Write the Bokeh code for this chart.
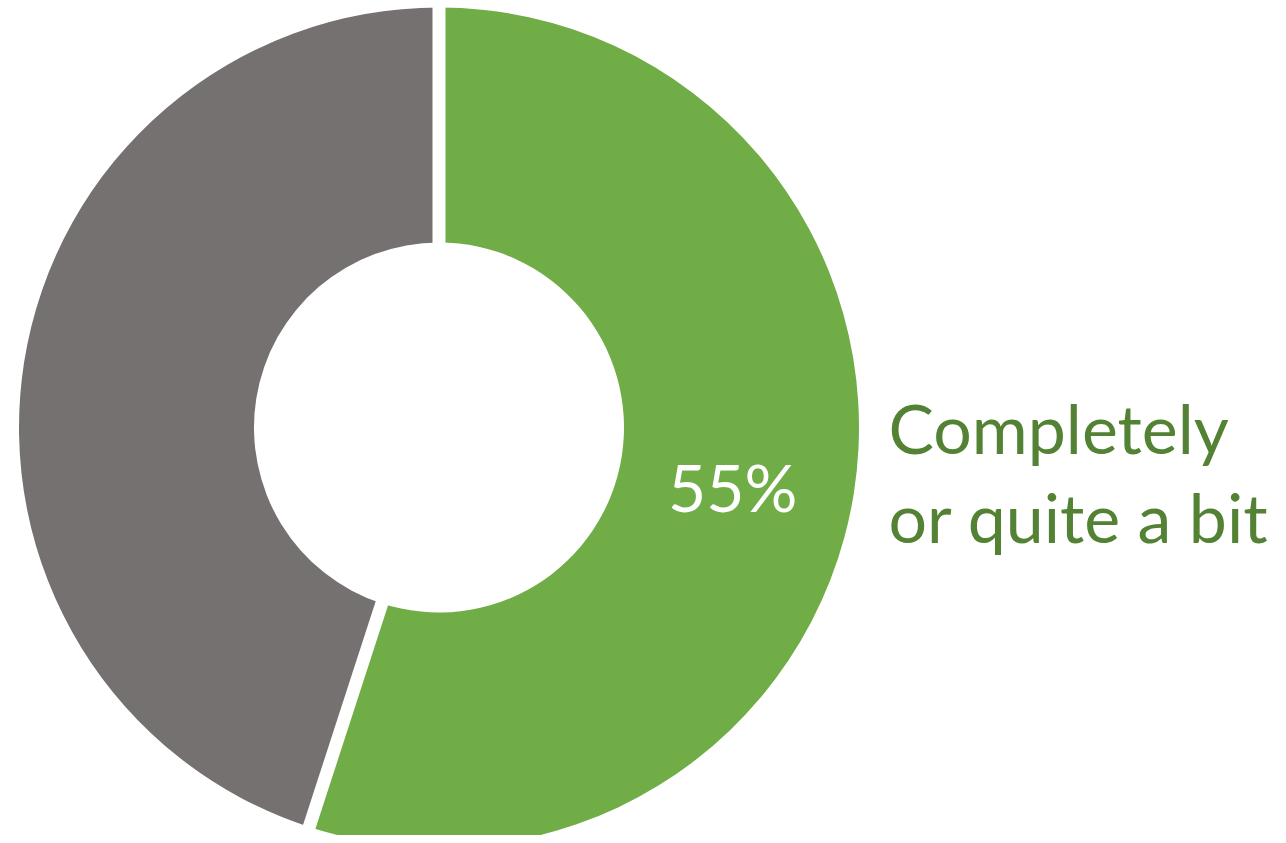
import math
from bokeh.plotting import figure
from bokeh.models import Range1d
from bokeh.core.properties import value
from bokeh.embed import file_html
from bokeh.resources import INLINE

# Data
categories = ["Completely or quite a bit", "Other"]
values = [55, 45]
colors = ["#70AD47", "#767171"]
pct_labels = ["55%", ""]
label_lines = ["Completely", "or quite a bit"]

W, H = 1278, 835
p = figure(width=W, height=H, output_backend="svg", toolbar_location=None,
           x_range=Range1d(0, W), y_range=Range1d(0, H), min_border=0)
p.axis.visible = False
p.grid.visible = False
p.outline_line_color = None
p.background_fill_color = "white"
p.border_fill_color = "white"

cx, cy = 438.5, H - 427
r_in, r_out = 185, 420

total = float(sum(values))
start = math.pi / 2  # 12 o'clock, going clockwise
bounds = []
for v, c in zip(values, colors):
    sweep = 2 * math.pi * v / total
    end = start - sweep
    p.annular_wedge(x=[cx], y=[cy], inner_radius=r_in, outer_radius=r_out,
                    start_angle=end, end_angle=start, direction="anticlock",
                    fill_color=c, line_color=None)
    bounds.append(start)
    start = end

# white separators
for a in bounds:
    p.segment(x0=[cx], y0=[cy], x1=[cx + (r_out + 10) * math.cos(a)],
              y1=[cy + (r_out + 10) * math.sin(a)], line_color="white", line_width=13)

# percentage label in the green slice
mid = math.pi / 2 - 2 * math.pi * values[0] / total / 2
rm = (r_in + r_out) / 2
p.text(x=[cx + rm * math.cos(mid)], y=[cy + rm * math.sin(mid)], text=[pct_labels[0]],
       text_align="center", text_baseline="middle", y_offset=12, x_offset=-5,
       text_color="white", text_font=value("Lato"), text_font_size="66px")

# category label
for i, line in enumerate(label_lines):
    p.text(x=[888], y=[H - 427 - 89 * i], text=[line], text_align="left",
           text_baseline="alphabetic", text_color="#548235",
           text_font=value("Lato"), text_font_size="68px")

open("out.html", "w").write(file_html(p, INLINE))
